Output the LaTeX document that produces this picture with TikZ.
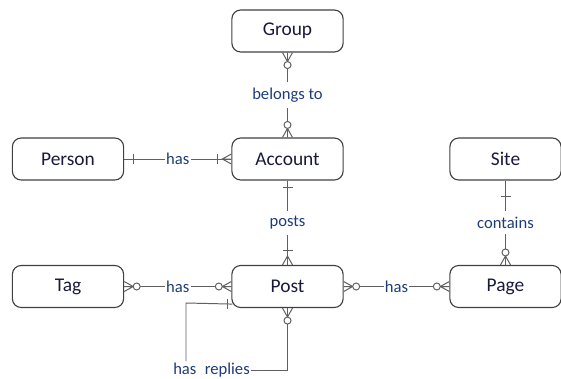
\documentclass[tikz,border=0pt]{standalone}
\usepackage{fontspec}
\setmainfont{Carlito}
\definecolor{entityline}{RGB}{64,64,64}
\definecolor{entitytext}{RGB}{25,25,60}
\definecolor{reltext}{RGB}{31,60,120}
\definecolor{linkgray}{RGB}{96,96,96}
\begin{document}
\begin{tikzpicture}[x=0.025cm,y=0.025cm,
    entity/.style={draw=entityline,line width=0.8pt,rounded corners=0.22cm,minimum width=2.78cm,minimum height=1.05cm,text=entitytext,font=\fontsize{13.8}{16}\selectfont},
    rel/.style={fill=white,text=reltext,inner xsep=1pt,inner ysep=4pt,font=\fontsize{11.8}{14}\selectfont},
    link/.style={draw=linkgray,line width=0.7pt},
    one/.pic={\draw[link] (#1,-5) -- (#1,5);},
    zeromany/.pic={\draw[link] (0,-5) -- (9,0) -- (0,5) (0,0) -- (9,0);
                   \draw[link,fill=white] (12.5,0) circle (3.5);},
    onemany/.pic={\draw[link] (0,-5) -- (9,0) -- (0,5) (0,0) -- (9,0);
                  \draw[link] (14,-5) -- (14,5);}
  ]
  \useasboundingbox (0,0) rectangle (561,-378);
  %entities
  \node[entity] (group) at (287.5,-31) {Group};
  \node[entity] (person) at (68,-159) {Person};
  \node[entity] (account) at (287.5,-159) {Account};
  \node[entity] (site) at (505.5,-159) {Site};
  \node[entity] (tag) at (68,-286.5) {Tag};
  \node[entity] (post) at (287.5,-286.5) {Post};
  \node[entity] (page) at (505.5,-286.5) {Page};
  %relations
  \draw[link] (group) -- node[rel] {belongs to} (account);
  \draw[link] (person) -- node[rel] {has} (account);
  \draw[link] (account) -- node[rel] {posts} (post);
  \draw[link] (site) -- node[rel] {contains} (page);
  \draw[link] (tag) -- node[rel] {has} (post);
  \draw[link] (post) -- node[rel] {has} (page);
  %self relation
  \node[rel,inner sep=1pt] (replies) at (211.5,-370) {has\hspace{6pt}replies};
  \coordinate (selfstart) at ([shift={(1,4)}]post.south west);
  \coordinate (replybend) at (186,-303);
  \draw[link] (selfstart) -- (replybend) -- (replybend |- replies.north);
  \draw[link] (replies.east) -| (post.south);
  %cardinalities
  \pic[rotate=-90] at (group.south) {zeromany};
  \pic[rotate=90] at (account.north) {zeromany};
  \pic at (person.east) {one=9};
  \pic[rotate=180] at (account.west) {onemany};
  \pic[rotate=-90] at (account.south) {one=7};
  \pic[rotate=90] at (post.north) {onemany};
  \pic[rotate=-90] at (site.south) {one=16};
  \pic[rotate=90] at (page.north) {zeromany};
  \pic at (tag.east) {zeromany};
  \pic[rotate=180] at (post.west) {zeromany};
  \pic at (post.east) {zeromany};
  \pic[rotate=180] at (page.west) {zeromany};
  \pic[rotate=180] at (selfstart) {one=5};
  \pic[rotate=-90] at (post.south) {zeromany};
\end{tikzpicture}
\end{document}
